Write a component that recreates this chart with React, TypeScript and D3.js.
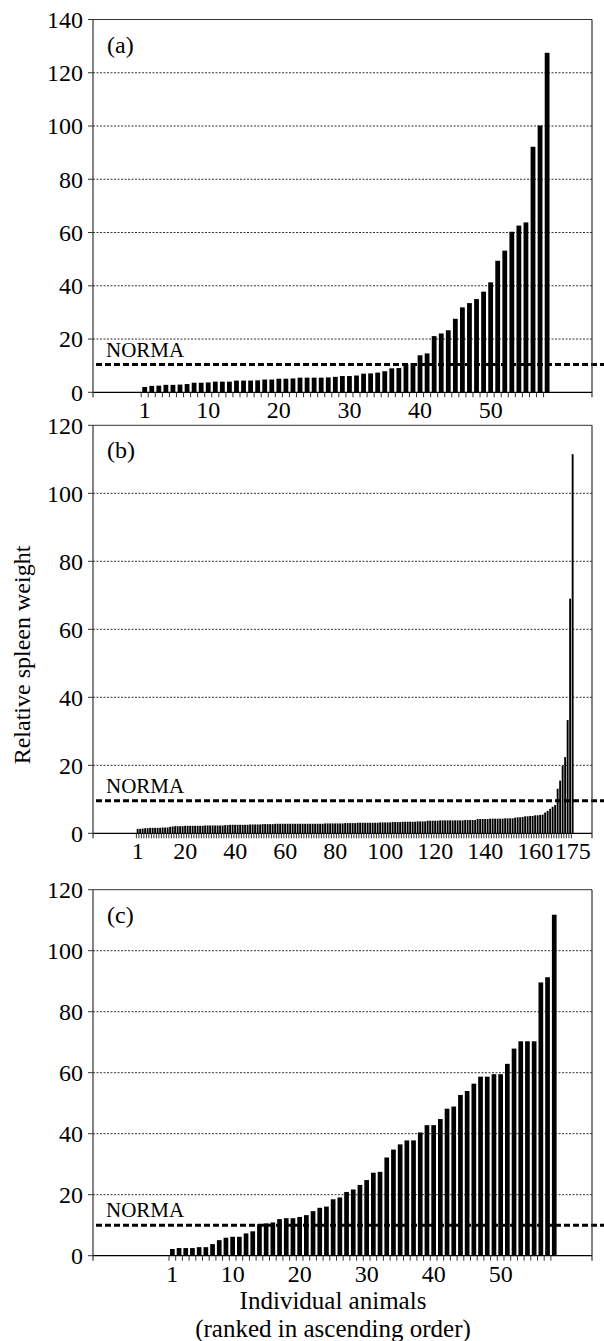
import React from "react";
import * as d3 from "d3";

// relative spleen weight, animals ranked in ascending order
const valuesA = [
  2.0, 2.4, 2.5, 2.8, 2.8, 2.9, 3.1, 3.6, 3.6, 3.7,
  4.0, 4.0, 4.0, 4.4, 4.4, 4.4, 4.5, 4.8, 4.8, 5.1,
  5.1, 5.2, 5.5, 5.5, 5.5, 5.5, 5.6, 5.8, 6.1, 6.1,
  6.3, 7.0, 7.1, 7.4, 7.9, 9.0, 9.1, 10.5, 11.0, 13.9,
  14.6, 21.1, 22.1, 23.3, 27.6, 31.9, 33.5, 35.0, 37.8, 41.3,
  49.4, 53.2, 60.3, 62.6, 63.8, 92.2, 100.2, 127.5,
];

const valuesB = [
  1.3, 1.3, 1.4,
  1.5, 1.5, 1.6, 1.6, 1.6, 1.6, 1.6, 1.7, 1.7, 1.7,
  1.9, 2.0,
  2.1, 2.1, 2.1, 2.1, 2.2, 2.2, 2.2, 2.2, 2.2, 2.2,
  2.2, 2.2, 2.3, 2.3, 2.3, 2.3, 2.3, 2.3, 2.3, 2.3,
  2.4, 2.4, 2.5, 2.5, 2.5, 2.5, 2.5, 2.5, 2.5, 2.5,
  2.6, 2.6, 2.6, 2.6, 2.6,
  2.7, 2.7, 2.7, 2.7, 2.7, 2.8, 2.8, 2.8, 2.8, 2.8,
  2.8, 2.8, 2.8, 2.8, 2.8, 2.8, 2.8, 2.8, 2.8, 2.8,
  2.8, 2.8, 2.8, 2.8, 2.8, 2.9, 2.9, 2.9, 2.9, 2.9,
  2.9, 2.9, 2.9,
  3.0, 3.0, 3.0, 3.0, 3.0, 3.1, 3.1, 3.1, 3.1, 3.1,
  3.1, 3.1, 3.1, 3.1, 3.2, 3.2, 3.2, 3.2, 3.2,
  3.3, 3.3, 3.3, 3.3, 3.4, 3.4, 3.4, 3.4, 3.4, 3.4,
  3.5, 3.5, 3.5, 3.5,
  3.7, 3.7, 3.7, 3.7, 3.7, 3.8, 3.8, 3.8, 3.8, 3.8,
  3.8, 3.8, 3.8, 3.8, 3.8, 3.9, 3.9, 3.9, 3.9, 3.9,
  4.2, 4.2, 4.2, 4.2, 4.2, 4.3, 4.3, 4.3, 4.3, 4.3,
  4.3, 4.4, 4.4, 4.4, 4.4,
  4.6, 4.7, 4.7, 4.8,
  5.0, 5.0, 5.1, 5.1,
  5.3, 5.3, 5.4, 5.5,
  6.1, 6.6, 7.2, 7.8, 8.3, 13.1, 15.5, 19.8, 22.4, 33.3,
  69.0, 111.5,
];

const valuesC = [
  2.2, 2.5, 2.5, 2.5, 2.8, 2.8, 3.8, 5.1, 5.9, 6.2,
  6.2, 7.3, 8.0, 10.3, 10.6, 10.9, 12.0, 12.3, 12.3, 12.7,
  13.3, 14.6, 15.7, 16.1, 18.5, 19.1, 20.9, 21.7, 23.2, 24.8,
  27.2, 27.5, 32.2, 34.8, 36.5, 37.8, 37.8, 40.4, 42.8, 42.8,
  44.8, 48.2, 48.9, 52.7, 54.0, 56.4, 58.7, 58.7, 59.5, 59.5,
  62.9, 67.9, 70.3, 70.3, 70.3, 89.6, 91.3, 111.8,
];

const xLabelsA = [1, 10, 20, 30, 40, 50];
const xLabelsB = [1, 20, 40, 60, 80, 100, 120, 140, 160, 175];
const xLabelsC = [1, 10, 20, 30, 40, 50];

const yTicksA = [0, 20, 40, 60, 80, 100, 120, 140];
const yTicksBC = [0, 20, 40, 60, 80, 100, 120];

const normaA = 10.4;
const normaB = 9.6;
const normaC = 10;

const FONT = "'Liberation Serif', 'Times New Roman', serif";
const LEFT = 93;
const RIGHT = 592;

const Panel = ({ values, yTicks, xLabels, norma, tag, top, bottom, barStart, step, pad }) => {
  const ids = values.map((_, i) => i + 1);
  const yMax = yTicks[yTicks.length - 1];

  const x = d3
    .scaleBand()
    .domain(ids)
    .range([barStart, barStart + step * (ids.length - pad)])
    .paddingInner(pad)
    .paddingOuter(0);

  const y = d3.scaleLinear().domain([0, yMax]).range([bottom, top]);
  const gap = x.step() - x.bandwidth();

  return (
    <g>
      {/* dotted grid */}
      {yTicks
        .filter((t) => t > 0 && t < yMax)
        .map((t) => (
          <line
            key={"g" + t}
            x1={LEFT}
            x2={RIGHT}
            y1={y(t)}
            y2={y(t)}
            stroke="#333"
            strokeWidth={1}
            strokeDasharray="2,1.5"
          />
        ))}

      {/* normal level */}
      <line
        x1={LEFT + 3}
        x2={604}
        y1={y(norma)}
        y2={y(norma)}
        stroke="#000"
        strokeWidth={3}
        strokeDasharray="6,3"
      />
      <text x={106} y={y(norma) - 8} fontSize={21} fontFamily={FONT}>
        NORMA
      </text>

      {values.map((v, i) => (
        <rect
          key={i}
          x={x(ids[i])}
          y={y(v)}
          width={x.bandwidth()}
          height={bottom - y(v)}
          fill="#000"
        />
      ))}

      {/* frame */}
      <line x1={LEFT} x2={RIGHT} y1={top} y2={top} stroke="#333" strokeWidth={1} />
      <line x1={LEFT} x2={RIGHT} y1={bottom} y2={bottom} stroke="#000" strokeWidth={1.2} />
      <line x1={LEFT} x2={LEFT} y1={top} y2={bottom + 5} stroke="#333" strokeWidth={1.2} />
      <line x1={RIGHT} x2={RIGHT} y1={top} y2={bottom + 5} stroke="#333" strokeWidth={1.2} />

      {/* y ticks */}
      {yTicks.map((t) => (
        <g key={"y" + t}>
          <line x1={LEFT - 5} x2={LEFT} y1={y(t)} y2={y(t)} stroke="#333" strokeWidth={1} />
          <text
            x={83}
            y={y(t)}
            dy="0.35em"
            textAnchor="end"
            fontSize={24}
            fontFamily={FONT}
          >
            {t}
          </text>
        </g>
      ))}

      {/* x ticks, one per animal */}
      {ids.map((d) => (
        <line
          key={"x" + d}
          x1={x(d) - gap / 2}
          x2={x(d) - gap / 2}
          y1={bottom}
          y2={bottom + 5}
          stroke="#333"
          strokeWidth={1}
        />
      ))}
      {xLabels.map((d) => (
        <text
          key={"xl" + d}
          x={x(d) + x.bandwidth() / 2}
          y={bottom + 26}
          textAnchor="middle"
          fontSize={24}
          fontFamily={FONT}
        >
          {d}
        </text>
      ))}

      <text x={107} y={top + 33} fontSize={24} fontFamily={FONT}>
        {tag}
      </text>
    </g>
  );
};

const App = () => {
  return (
    <svg
      width={604}
      height={1341}
      style={{ position: "absolute", left: 0, top: 0, display: "block", background: "#fff" }}
    >
      <Panel
        values={valuesA}
        yTicks={yTicksA}
        xLabels={xLabelsA}
        norma={normaA}
        tag="(a)"
        top={19.5}
        bottom={392.3}
        barStart={142.3}
        step={7.06}
        pad={0.32}
      />
      <Panel
        values={valuesB}
        yTicks={yTicksBC}
        xLabels={xLabelsB}
        norma={normaB}
        tag="(b)"
        top={425.3}
        bottom={833.3}
        barStart={136.7}
        step={2.5}
        pad={0.25}
      />
      <Panel
        values={valuesC}
        yTicks={yTicksBC}
        xLabels={xLabelsC}
        norma={normaC}
        tag="(c)"
        top={889.7}
        bottom={1255.7}
        barStart={170}
        step={6.7}
        pad={0.3}
      />

      <text
        transform="translate(22,655) rotate(-90)"
        dy="0.35em"
        textAnchor="middle"
        fontSize={24}
        fontFamily={FONT}
      >
        Relative spleen weight
      </text>
      <text x={333} y={1309} textAnchor="middle" fontSize={25} fontFamily={FONT}>
        Individual animals
      </text>
      <text x={333} y={1337} textAnchor="middle" fontSize={25} fontFamily={FONT}>
        (ranked in ascending order)
      </text>
    </svg>
  );
};

export default App;
